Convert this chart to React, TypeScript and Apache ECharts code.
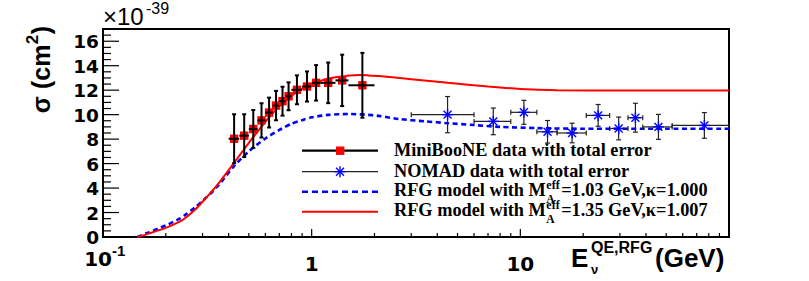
import React, { useEffect, useRef } from 'react';
import * as echarts from 'echarts';

// ---------------- data ----------------
// MiniBooNE: bin centre, bin edges, cross section (1e-39 cm^2), total error
const mbEnergy = [0.425, 0.475, 0.525, 0.575, 0.625, 0.675, 0.725, 0.775, 0.85, 0.95, 1.05, 1.2, 1.4, 1.75];
const mbLow = [0.4, 0.45, 0.5, 0.55, 0.6, 0.65, 0.7, 0.75, 0.8, 0.9, 1.0, 1.1, 1.3, 1.5];
const mbHigh = [0.45, 0.5, 0.55, 0.6, 0.65, 0.7, 0.75, 0.8, 0.9, 1.0, 1.1, 1.3, 1.5, 2.0];
const mbSigma = [8.03, 8.28, 8.83, 9.53, 10.17, 10.74, 11.1, 11.5, 12.03, 12.3, 12.6, 12.6, 12.8, 12.4];
const mbError = [2.0, 1.75, 1.55, 1.4, 1.22, 1.2, 1.18, 1.14, 1.18, 1.23, 1.45, 1.66, 2.1, 2.65];

// NOMAD
const nomadEnergy = [4.48, 7.42, 10.4, 13.5, 17.7, 23.6, 29.6, 35.6, 45.9, 76.2];
const nomadLow = [3, 6, 9, 12, 15, 20.7, 26.8, 32.8, 38.6, 53.4];
const nomadHigh = [6, 9, 12, 15, 20.7, 26.8, 32.8, 38.6, 53.4, 100];
const nomadSigma = [10.0, 9.45, 10.19, 8.6, 8.5, 9.94, 8.87, 9.75, 9.0, 9.12];
const nomadError = [1.48, 1.09, 0.98, 0.92, 0.8, 0.89, 0.93, 1.18, 1.02, 1.05];

// RFG model, M_A = 1.03 GeV (blue dashed)
const rfg103Energy = [0.146, 0.167, 0.2, 0.233, 0.25, 0.275, 0.3, 0.35, 0.42, 0.5, 0.6, 0.7, 0.8, 0.9, 1.0, 1.2, 1.5, 1.8, 2.1, 2.6, 3.5, 4.5, 6, 8, 12, 20, 50, 100];
const rfg103Sigma = [0, 0.4, 0.95, 1.5, 1.85, 2.4, 2.95, 4.05, 5.7, 7.0, 8.05, 8.75, 9.25, 9.55, 9.78, 9.98, 10.05, 10.0, 9.9, 9.65, 9.45, 9.3, 9.15, 9.0, 8.9, 8.85, 8.85, 8.85];

// RFG model, M_A = 1.35 GeV (red solid)
const rfg135Energy = [0.146, 0.167, 0.2, 0.233, 0.25, 0.275, 0.3, 0.35, 0.42, 0.5, 0.55, 0.63, 0.75, 0.9, 1.1, 1.3, 1.7, 2.1, 3, 4.5, 7, 10, 15, 30, 100];
const rfg135Sigma = [0, 0.3, 0.75, 1.25, 1.6, 2.2, 2.88, 4.18, 5.95, 7.7, 8.6, 9.85, 11.15, 12.1, 12.75, 13.05, 13.25, 13.15, 12.9, 12.6, 12.3, 12.1, 12.0, 11.98, 11.98];

// axis ticks and labels
const xMajorTicks = [0.1, 1, 10, 100];
const xMinorTicks = [0.2, 0.3, 0.4, 0.5, 0.6, 0.7, 0.8, 0.9, 2, 3, 4, 5, 6, 7, 8, 9, 20, 30, 40, 50, 60, 70, 80, 90];
const xLabelValues = [0.1, 1, 10];
const xLabelMain = ['10', '1', '10'];
const xLabelSup = ['-1', '', ''];
const yMajorTicks = [0, 2, 4, 6, 8, 10, 12, 14, 16];
const yMinorTicks = [0.5, 1, 1.5, 2.5, 3, 3.5, 4.5, 5, 5.5, 6.5, 7, 7.5, 8.5, 9, 9.5, 10.5, 11, 11.5, 12.5, 13, 13.5, 14.5, 15, 15.5, 16.5];
const yLabelText = ['0', '2', '4', '6', '8', '10', '12', '14', '16'];

const SANS = '"Liberation Sans", Arial, Helvetica, sans-serif';
const WIDE = '"DejaVu Sans", "Liberation Sans", sans-serif';
const SERIF = '"Liberation Serif", "Times New Roman", serif';

function measure(text: string, font: string): number {
  const c = document.createElement('canvas');
  const ctx = c.getContext('2d');
  if (!ctx) return text.length * 8;
  ctx.font = font;
  return ctx.measureText(text).width;
}

export default function App() {
  const ref = useRef<HTMLDivElement>(null);

  useEffect(() => {
    document.body.style.margin = '0';
    const chart = echarts.init(ref.current as HTMLDivElement, null, { renderer: 'svg' });

    const mbData = mbEnergy.map((e, i) => [e, mbSigma[i], mbError[i], mbLow[i], mbHigh[i]]);
    const nomadData = nomadEnergy.map((e, i) => [e, nomadSigma[i], nomadError[i], nomadLow[i], nomadHigh[i]]);

    const xTickData = [
      ...xMajorTicks.map((v) => [v, 0, 1]),
      ...xMinorTicks.map((v) => [v, 0, 0]),
    ];
    const yTickData = [
      ...yMajorTicks.map((v) => [0.1, v, 1]),
      ...yMinorTicks.map((v) => [0.1, v, 0]),
    ];
    const xLabelData = xLabelValues.map((v) => [v, 0]);
    const yLabelData = yMajorTicks.map((v) => [0.1, v]);

    const asterisk = (cx: number, cy: number, r: number, color: string, lw: number) => {
      const d = r * 0.72;
      return [
        { type: 'line', shape: { x1: cx - r, y1: cy, x2: cx + r, y2: cy }, style: { stroke: color, lineWidth: lw } },
        { type: 'line', shape: { x1: cx, y1: cy - r, x2: cx, y2: cy + r }, style: { stroke: color, lineWidth: lw } },
        { type: 'line', shape: { x1: cx - d, y1: cy - d, x2: cx + d, y2: cy + d }, style: { stroke: color, lineWidth: lw } },
        { type: 'line', shape: { x1: cx - d, y1: cy + d, x2: cx + d, y2: cy - d }, style: { stroke: color, lineWidth: lw } },
      ];
    };

    // legend texts with M_A^eff
    const legFont = `bold 18.3px ${SERIF}`;
    const supFont = `bold 12px ${SERIF}`;
    const subFont = `bold 11.5px ${SERIF}`;
    const legX = 394;
    const baseText = 'RFG model with M';
    const wBase = measure(baseText, legFont);
    const wSup = measure('eff', supFont);
    const legendModelRow = (yc: number, rest: string) => [
      { type: 'text', x: legX, y: yc, style: { text: baseText, font: legFont, fill: '#000', align: 'left', verticalAlign: 'middle' } },
      { type: 'text', x: legX + wBase + 0.5, y: yc - 5, style: { text: 'eff', font: supFont, fill: '#000', align: 'left', verticalAlign: 'middle' } },
      { type: 'text', x: legX + wBase + 0.5, y: yc + 9, style: { text: 'A', font: subFont, fill: '#000', align: 'left', verticalAlign: 'middle' } },
      { type: 'text', x: legX + wBase + wSup + 2, y: yc, style: { text: rest, font: legFont, fill: '#000', align: 'left', verticalAlign: 'middle' } },
    ];

    // y-axis title: sigma (cm^2), rotated
    const yFont = `bold 25px ${SANS}`;
    const ySupFont = `bold 17px ${SANS}`;
    const w1 = measure('σ (cm', yFont);
    const w2 = measure('2', ySupFont);
    const w3 = measure(')', yFont);
    const x0 = -(w1 + w2 + w3) / 2;
    const yTitle = {
      type: 'group', x: 41, y: 70, rotation: Math.PI / 2,
      children: [
        { type: 'text', x: x0, y: 0, style: { text: 'σ (cm', font: yFont, fill: '#000', align: 'left', verticalAlign: 'middle' } },
        { type: 'text', x: x0 + w1 + 0.5, y: -9, style: { text: '2', font: ySupFont, fill: '#000', align: 'left', verticalAlign: 'middle' } },
        { type: 'text', x: x0 + w1 + w2 + 1, y: 0, style: { text: ')', font: yFont, fill: '#000', align: 'left', verticalAlign: 'middle' } },
      ],
    };

    const option: any = {
      animation: false,
      grid: { left: 103, top: 29, right: 80, bottom: 44, show: true, borderColor: '#000', borderWidth: 2, backgroundColor: 'transparent' },
      xAxis: {
        type: 'log', logBase: 10, min: 0.1, max: 100,
        axisLine: { show: false }, axisTick: { show: false }, axisLabel: { show: false }, splitLine: { show: false },
      },
      yAxis: {
        type: 'value', min: 0, max: 17, interval: 2,
        axisLine: { show: false }, axisTick: { show: false }, axisLabel: { show: false }, splitLine: { show: false },
      },
      series: [
        {
          type: 'line', name: 'rfg103', z: 2,
          data: rfg103Energy.map((e, i) => [e, rfg103Sigma[i]]),
          showSymbol: false, smooth: 0.25,
          lineStyle: { color: '#0000ff', width: 2.6, type: [5, 3.5] },
        },
        {
          type: 'line', name: 'rfg135', z: 2,
          data: rfg135Energy.map((e, i) => [e, rfg135Sigma[i]]),
          showSymbol: false, smooth: 0.25,
          lineStyle: { color: '#ff0000', width: 2 },
        },
        {
          type: 'custom', name: 'nomad', z: 3, clip: false,
          encode: { x: 0, y: 1 },
          data: nomadData,
          renderItem: (params: any, api: any) => {
            const e = api.value(0), s = api.value(1), err = api.value(2), lo = api.value(3), hi = api.value(4);
            const c = api.coord([e, s]);
            const t = api.coord([e, s + err]);
            const b = api.coord([e, s - err]);
            const l = api.coord([lo, s]);
            const r = api.coord([hi, s]);
            const col = '#222';
            const cap = 2.5;
            return {
              type: 'group',
              children: [
                { type: 'line', shape: { x1: c[0], y1: t[1], x2: c[0], y2: b[1] }, style: { stroke: col, lineWidth: 1.2 } },
                { type: 'line', shape: { x1: l[0], y1: c[1], x2: r[0], y2: c[1] }, style: { stroke: col, lineWidth: 1.2 } },
                { type: 'line', shape: { x1: c[0] - cap, y1: t[1], x2: c[0] + cap, y2: t[1] }, style: { stroke: col, lineWidth: 1.2 } },
                { type: 'line', shape: { x1: c[0] - cap, y1: b[1], x2: c[0] + cap, y2: b[1] }, style: { stroke: col, lineWidth: 1.2 } },
                { type: 'line', shape: { x1: l[0], y1: c[1] - cap, x2: l[0], y2: c[1] + cap }, style: { stroke: col, lineWidth: 1.2 } },
                { type: 'line', shape: { x1: r[0], y1: c[1] - cap, x2: r[0], y2: c[1] + cap }, style: { stroke: col, lineWidth: 1.2 } },
                ...asterisk(c[0], c[1], 5.5, '#0000ff', 1.4),
              ],
            };
          },
        },
        {
          type: 'custom', name: 'miniboone', z: 4, clip: false,
          encode: { x: 0, y: 1 },
          data: mbData,
          renderItem: (params: any, api: any) => {
            const e = api.value(0), s = api.value(1), err = api.value(2), lo = api.value(3), hi = api.value(4);
            const c = api.coord([e, s]);
            const t = api.coord([e, s + err]);
            const b = api.coord([e, s - err]);
            const l = api.coord([lo, s]);
            const r = api.coord([hi, s]);
            return {
              type: 'group',
              children: [
                { type: 'rect', shape: { x: c[0] - 4.2, y: c[1] - 4.2, width: 8.4, height: 8.4 }, style: { fill: '#ff0000' } },
                { type: 'line', shape: { x1: c[0], y1: t[1], x2: c[0], y2: b[1] }, style: { stroke: '#000', lineWidth: 2 } },
                { type: 'line', shape: { x1: l[0], y1: c[1], x2: r[0], y2: c[1] }, style: { stroke: '#000', lineWidth: 2 } },
                { type: 'line', shape: { x1: c[0] - 2, y1: t[1], x2: c[0] + 2, y2: t[1] }, style: { stroke: '#000', lineWidth: 2 } },
                { type: 'line', shape: { x1: c[0] - 2, y1: b[1], x2: c[0] + 2, y2: b[1] }, style: { stroke: '#000', lineWidth: 2 } },
              ],
            };
          },
        },
        {
          type: 'custom', name: 'xticks', z: 5, clip: false, silent: true,
          encode: { x: 0, y: 1 },
          data: xTickData,
          renderItem: (params: any, api: any) => {
            const p = api.coord([api.value(0), api.value(1)]);
            const len = api.value(2) === 1 ? 8 : 4;
            return { type: 'line', shape: { x1: p[0], y1: p[1], x2: p[0], y2: p[1] - len }, style: { stroke: '#000', lineWidth: 1.2 } };
          },
        },
        {
          type: 'custom', name: 'yticks', z: 5, clip: false, silent: true,
          encode: { x: 0, y: 1 },
          data: yTickData,
          renderItem: (params: any, api: any) => {
            const p = api.coord([api.value(0), api.value(1)]);
            const len = api.value(2) === 1 ? 16 : 8;
            return { type: 'line', shape: { x1: p[0], y1: p[1], x2: p[0] + len, y2: p[1] }, style: { stroke: '#000', lineWidth: 1.2 } };
          },
        },
        {
          type: 'custom', name: 'ylabels', z: 5, clip: false, silent: true,
          encode: { x: 0, y: 1 },
          data: yLabelData,
          renderItem: (params: any, api: any) => {
            const p = api.coord([api.value(0), api.value(1)]);
            return { type: 'text', x: p[0] - 4, y: p[1] + 0.5, style: { text: yLabelText[params.dataIndex], font: `bold 18.5px ${WIDE}`, fill: '#000', align: 'right', verticalAlign: 'middle' } };
          },
        },
        {
          type: 'custom', name: 'xlabels', z: 5, clip: false, silent: true,
          encode: { x: 0, y: 1 },
          data: xLabelData,
          renderItem: (params: any, api: any) => {
            const i = params.dataIndex;
            const p = api.coord([api.value(0), api.value(1)]);
            const font = `bold 20px ${WIDE}`;
            if (xLabelSup[i]) {
              return {
                type: 'group',
                children: [
                  { type: 'text', x: p[0] + 9, y: p[1] + 22.2, style: { text: xLabelMain[i], font, fill: '#000', align: 'right', verticalAlign: 'middle' } },
                  { type: 'text', x: p[0] + 9, y: p[1] + 13.8, style: { text: xLabelSup[i], font: `bold 15px ${SANS}`, fill: '#000', align: 'left', verticalAlign: 'middle' } },
                ],
              };
            }
            return { type: 'text', x: p[0], y: p[1] + 26.7, style: { text: xLabelMain[i], font, fill: '#000', align: 'center', verticalAlign: 'middle' } };
          },
        },
      ],
      graphic: [
        // exponent of y axis
        { type: 'text', x: 103, y: 16, style: { text: '×10', font: `24px ${SANS}`, fill: '#000', align: 'left', verticalAlign: 'middle' } },
        { type: 'text', x: 146, y: 8, style: { text: '-39', font: `16px ${SANS}`, fill: '#000', align: 'left', verticalAlign: 'middle' } },
        // y title
        yTitle,
        // x title
        { type: 'text', x: 571, y: 257.5, style: { text: 'E', font: `bold 26px ${SANS}`, fill: '#000', align: 'left', verticalAlign: 'middle' } },
        { type: 'text', x: 591, y: 247.5, style: { text: 'QE,RFG', font: `bold 16px ${SANS}`, fill: '#000', align: 'left', verticalAlign: 'middle' } },
        { type: 'text', x: 591, y: 269, style: { text: 'ν', font: `bold 13px ${SANS}`, fill: '#000', align: 'left', verticalAlign: 'middle' } },
        { type: 'text', x: 655, y: 257.5, style: { text: '(GeV)', font: `bold 26px ${SANS}`, fill: '#000', align: 'left', verticalAlign: 'middle' } },
        // legend
        { type: 'line', shape: { x1: 302, y1: 150.7, x2: 378, y2: 150.7 }, style: { stroke: '#000', lineWidth: 2.2 } },
        { type: 'rect', shape: { x: 336, y: 146.5, width: 8.4, height: 8.4 }, style: { fill: '#ff0000' } },
        { type: 'text', x: legX, y: 149.5, style: { text: 'MiniBooNE data with total error', font: legFont, fill: '#000', align: 'left', verticalAlign: 'middle' } },
        { type: 'line', shape: { x1: 302, y1: 171.7, x2: 378, y2: 171.7 }, style: { stroke: '#222', lineWidth: 1.2 } },
        { type: 'group', children: asterisk(340, 171.7, 5.5, '#0000ff', 1.4) },
        { type: 'text', x: legX, y: 170.8, style: { text: 'NOMAD data with total error', font: legFont, fill: '#000', align: 'left', verticalAlign: 'middle' } },
        { type: 'line', shape: { x1: 302, y1: 191.7, x2: 378, y2: 191.7 }, style: { stroke: '#0000ff', lineWidth: 2.6, lineDash: [6, 4] } },
        ...legendModelRow(189.5, '=1.03 GeV,κ=1.000'),
        { type: 'line', shape: { x1: 302, y1: 211.7, x2: 378, y2: 211.7 }, style: { stroke: '#ff0000', lineWidth: 2 } },
        ...legendModelRow(210, '=1.35 GeV,κ=1.007'),
      ],
    };

    chart.setOption(option);
    return () => chart.dispose();
  }, []);

  return <div ref={ref} style={{ width: 809, height: 281 }} />;
}
